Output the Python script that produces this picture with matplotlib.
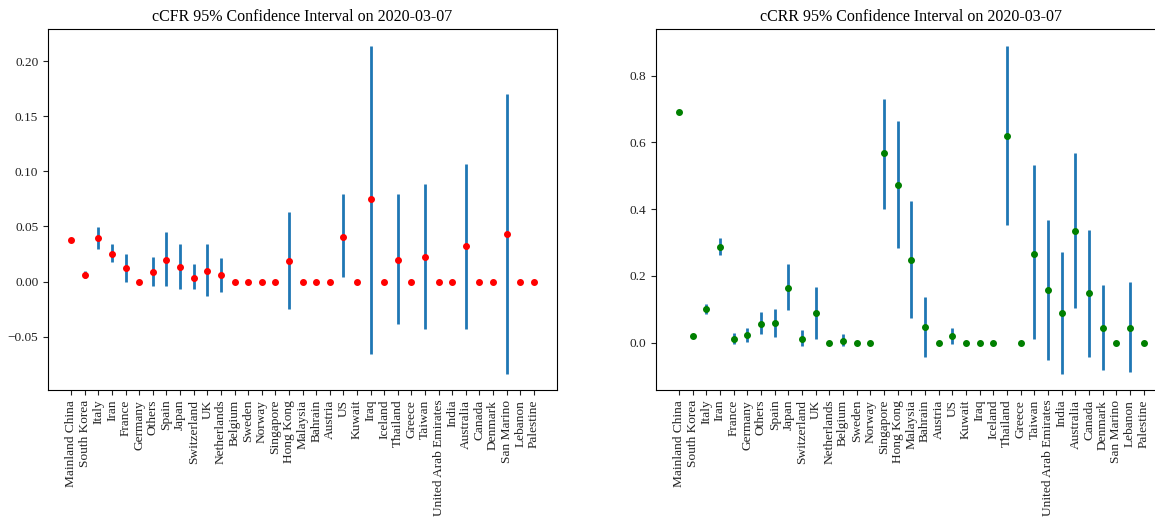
import numpy as np
import matplotlib
matplotlib.use('Agg')
import matplotlib.pyplot as plt

plt.rcParams['font.family'] = ['Liberation Serif', 'DejaVu Serif']
plt.rcParams['font.size'] = 9.6

countries = ["Mainland China", "South Korea", "Italy", "Iran", "France", "Germany", "Others",
             "Spain", "Japan", "Switzerland", "UK", "Netherlands", "Belgium", "Sweden", "Norway",
             "Singapore", "Hong Kong", "Malaysia", "Bahrain", "Austria", "US", "Kuwait", "Iraq",
             "Iceland", "Thailand", "Greece", "Taiwan", "United Arab Emirates", "India",
             "Australia", "Canada", "Denmark", "San Marino", "Lebanon", "Palestine"]

# cCFR point estimates and 95% bounds
cfr = [0.0378, 0.0058, 0.0393, 0.0247, 0.0122, 0.0, 0.0085, 0.0200, 0.0134, 0.0037, 0.0098,
       0.0058, 0.0, 0.0, 0.0, 0.0, 0.0189, 0.0, 0.0, 0.0, 0.0405, 0.0, 0.0747, 0.0, 0.0200,
       0.0, 0.0223, 0.0, 0.0, 0.0320, 0.0, 0.0, 0.0430, 0.0, 0.0]
cfr_lo = [0.0370, 0.0037, 0.0300, 0.0180, -0.0003, 0.0, -0.0043, -0.0043, -0.0067, -0.0067,
          -0.0128, -0.0091, 0.0, 0.0, 0.0, 0.0, -0.0253, 0.0, 0.0, 0.0, 0.0043, 0.0, -0.0659,
          0.0, -0.0384, 0.0, -0.0433, 0.0, 0.0, -0.0433, 0.0, 0.0, -0.0835, 0.0, 0.0]
cfr_hi = [0.0400, 0.0098, 0.0494, 0.0338, 0.0250, 0.0, 0.0226, 0.0448, 0.0338, 0.0162, 0.0338,
          0.0213, 0.0, 0.0, 0.0, 0.0, 0.0628, 0.0, 0.0, 0.0, 0.0799, 0.0, 0.2140, 0.0, 0.0799,
          0.0, 0.0884, 0.0, 0.0, 0.1069, 0.0, 0.0, 0.1703, 0.0, 0.0]

# cCRR point estimates and 95% bounds
crr = [0.690, 0.020, 0.100, 0.287, 0.011, 0.024, 0.056, 0.060, 0.165, 0.012, 0.088, 0.0, 0.004,
       0.0, 0.0, 0.5685, 0.471, 0.247, 0.048, 0.0, 0.020, 0.0, 0.0, 0.0, 0.620, 0.0, 0.267,
       0.157, 0.088, 0.335, 0.149, 0.044, 0.0, 0.044, 0.0]
crr_lo = [0.690, 0.020, 0.087, 0.264, -0.003, 0.002, 0.025, 0.018, 0.099, -0.010, 0.011, 0.0,
          -0.010, 0.0, 0.0, 0.401, 0.285, 0.074, -0.042, 0.0, -0.005, 0.0, 0.0, 0.0, 0.354, 0.0,
          0.011, -0.053, -0.093, 0.103, -0.042, -0.082, 0.0, -0.087, 0.0]
crr_hi = [0.690, 0.020, 0.117, 0.313, 0.029, 0.045, 0.093, 0.102, 0.235, 0.037, 0.166, 0.0,
          0.025, 0.0, 0.0, 0.730, 0.664, 0.424, 0.137, 0.0, 0.045, 0.0, 0.0, 0.0, 0.890, 0.0,
          0.531, 0.368, 0.272, 0.569, 0.339, 0.173, 0.0, 0.182, 0.0]


def plot_ci(ax, est, lo, hi, dot_color, title):
    x = np.arange(len(countries))
    est = np.array(est)
    yerr = [est - np.array(lo), np.array(hi) - est]
    ax.errorbar(x, est, yerr=yerr, fmt='none', ecolor='tab:blue', elinewidth=2)
    ax.plot(x, est, 'o', color=dot_color, markersize=4, zorder=3)
    ax.set_xticks(x)
    ax.set_xticklabels(countries, rotation=90)
    ax.set_title(title, fontsize=11.5)
    ax.tick_params(colors='#222222')


fig = plt.figure(figsize=(11.55, 5.21), dpi=100)
ax1 = fig.add_axes([0.0416, 0.2514, 0.4407, 0.6923])
ax2 = fig.add_axes([0.5677, 0.2514, 0.4427, 0.6923])

plot_ci(ax1, cfr, cfr_lo, cfr_hi, 'red', "cCFR 95% Confidence Interval on 2020-03-07")
plot_ci(ax2, crr, crr_lo, crr_hi, 'green', "cCRR 95% Confidence Interval on 2020-03-07")

fig.savefig("out.png", dpi=100)
